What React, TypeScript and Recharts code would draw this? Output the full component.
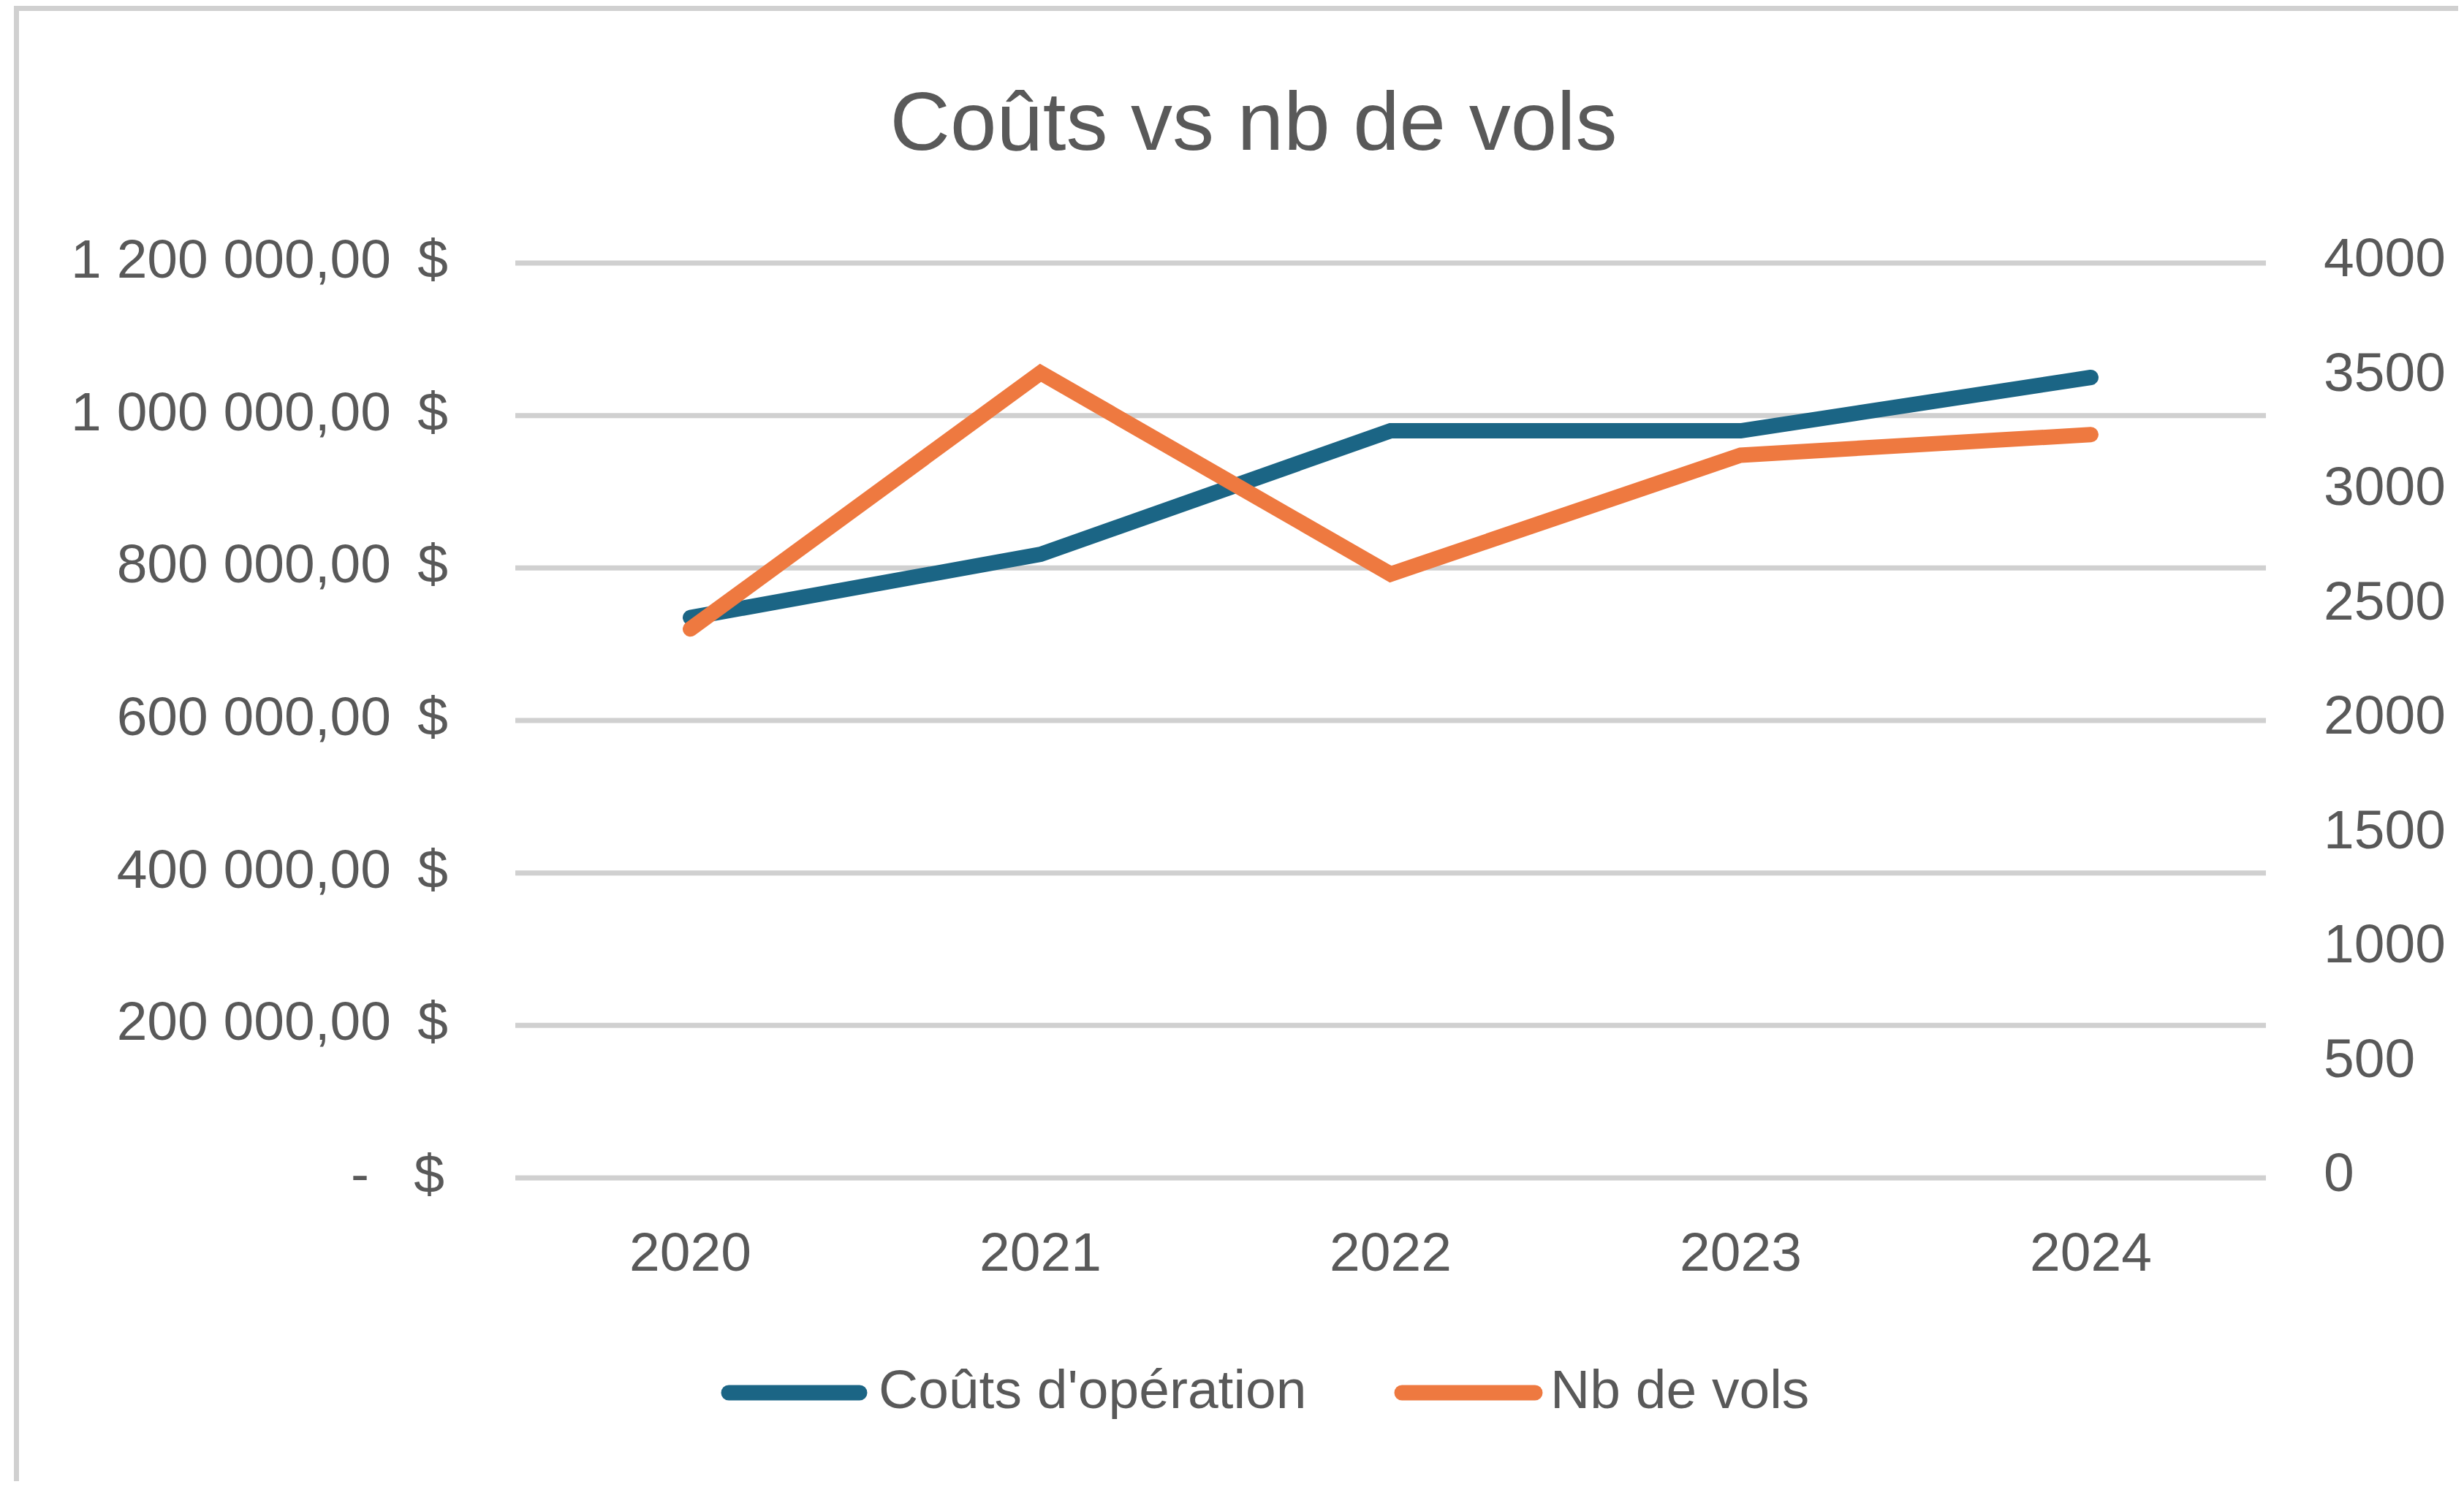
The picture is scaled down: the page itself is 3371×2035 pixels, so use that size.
import React from 'react';
import { LineChart, Line, XAxis, YAxis, CartesianGrid, Legend } from 'recharts';

// ---- data ----
const years = ['2020', '2021', '2022', '2023', '2024'];
const couts = [735000, 818000, 980000, 980000, 1050000];
const vols = [2400, 3520, 2640, 3160, 3250];
const leftTicks = [0, 200000, 400000, 600000, 800000, 1000000, 1200000];
const rightTicks = [0, 500, 1000, 1500, 2000, 2500, 3000, 3500, 4000];
const seriesNames = ["Coûts d'opération", 'Nb de vols'];
const titleText = 'Coûts vs nb de vols';

const data = years.map((y, i) => ({ year: y, couts: couts[i], vols: vols[i] }));

// ---- layout / style ----
const W = 3355;
const H = 2019;
const PLOT_LEFT = 697;
const PLOT_RIGHT = 3092;
const PLOT_TOP = 352;
const PLOT_BOTTOM = 1604;
const PLOT_W = PLOT_RIGHT - PLOT_LEFT;
const X_AXIS_H = 150;
const FONT = '"Liberation Sans", Arial, sans-serif';
const TXT = '#595959';
const BLUE = '#1B6585';
const ORANGE = '#EE7940';
const GRID = '#D0D0D0';
const FS = 75;

const fmt = (v: number) =>
  String(Math.round(v)).replace(/\B(?=(\d{3})+(?!\d))/g, ' ') + ',00';

const LeftTick = (p: any) => {
  const { x, y, payload } = p;
  const v = payload.value;
  const zero = v === 0;
  return (
    <g>
      <text x={zero ? x - 200 : x - 170} y={y + 20} textAnchor="end" fontFamily={FONT} fontSize={FS} fill={TXT}>
        {zero ? '-' : fmt(v)}
      </text>
      <text x={zero ? x - 97 : x - 92} y={y + 20} textAnchor="end" fontFamily={FONT} fontSize={FS} fill={TXT}>
        $
      </text>
    </g>
  );
};

const RightTick = (p: any) => {
  const { x, y, payload } = p;
  return (
    <text x={x + 79} y={y + 18} textAnchor="start" fontFamily={FONT} fontSize={FS} fill={TXT}>
      {payload.value}
    </text>
  );
};

const BottomTick = (p: any) => {
  const { x, y, payload } = p;
  return (
    <text x={x} y={y + 127} textAnchor="middle" fontFamily={FONT} fontSize={FS} fill={TXT}>
      {payload.value}
    </text>
  );
};

const renderLegend = () => (
  <svg width={W} height={120} style={{ display: 'block' }}>
    <line x1={989} x2={1168} y1={58} y2={58} stroke={BLUE} strokeWidth={21} strokeLinecap="round" />
    <text x={1194} y={79} fontFamily={FONT} fontSize={FS} fill={TXT}>{seriesNames[0]}</text>
    <line x1={1910} x2={2092} y1={58} y2={58} stroke={ORANGE} strokeWidth={21} strokeLinecap="round" />
    <text x={2113} y={79} fontFamily={FONT} fontSize={FS} fill={TXT}>{seriesNames[1]}</text>
  </svg>
);

export default function App() {
  const pad = PLOT_W / (2 * years.length);
  return (
    <div style={{ position: 'relative', width: W, height: H, background: '#fff', overflow: 'hidden' }}>
      <div
        style={{
          position: 'absolute',
          left: 11,
          top: 0,
          width: W,
          height: H + 20,
          borderTop: `7px solid ${GRID}`,
          borderLeft: `7px solid ${GRID}`,
          boxSizing: 'border-box',
        }}
      />
      <svg width={W} height={260} style={{ position: 'absolute', left: 0, top: 0 }}>
        <text x={1707} y={197} textAnchor="middle" fontFamily={FONT} fontSize={114} fill={TXT}>
          {titleText}
        </text>
      </svg>
      <div style={{ position: 'absolute', left: 0, top: 0 }}>
        <LineChart
          width={W}
          height={H}
          data={data}
          margin={{ top: PLOT_TOP, left: 0, right: 0, bottom: H - PLOT_BOTTOM - X_AXIS_H }}
        >
          <CartesianGrid yAxisId="left" vertical={false} stroke={GRID} strokeWidth={7} />
          <XAxis
            dataKey="year"
            height={X_AXIS_H}
            axisLine={false}
            tickLine={false}
            tickSize={0}
            tickMargin={0}
            padding={{ left: pad, right: pad }}
            tick={<BottomTick />}
            interval={0}
          />
          <YAxis
            yAxisId="left"
            orientation="left"
            width={PLOT_LEFT}
            domain={[0, 1200000]}
            ticks={leftTicks}
            interval={0}
            axisLine={false}
            tickLine={false}
            tickSize={0}
            tickMargin={0}
            tick={<LeftTick />}
          />
          <YAxis
            yAxisId="right"
            orientation="right"
            width={W - PLOT_RIGHT}
            domain={[0, 4000]}
            ticks={rightTicks}
            interval={0}
            axisLine={false}
            tickLine={false}
            tickSize={0}
            tickMargin={0}
            tick={<RightTick />}
          />
          <Legend
            layout="vertical"
            align="center"
            verticalAlign="middle"
            wrapperStyle={{ position: 'absolute', left: 0, top: 1840, width: W, height: 120 }}
            content={renderLegend}
          />
          <Line
            yAxisId="left"
            type="linear"
            dataKey="couts"
            name={seriesNames[0]}
            stroke={BLUE}
            strokeWidth={21}
            strokeLinecap="round"
            strokeLinejoin="miter"
            dot={false}
            activeDot={false}
            isAnimationActive={false}
          />
          <Line
            yAxisId="right"
            type="linear"
            dataKey="vols"
            name={seriesNames[1]}
            stroke={ORANGE}
            strokeWidth={21}
            strokeLinecap="round"
            strokeLinejoin="miter"
            dot={false}
            activeDot={false}
            isAnimationActive={false}
          />
        </LineChart>
      </div>
    </div>
  );
}
